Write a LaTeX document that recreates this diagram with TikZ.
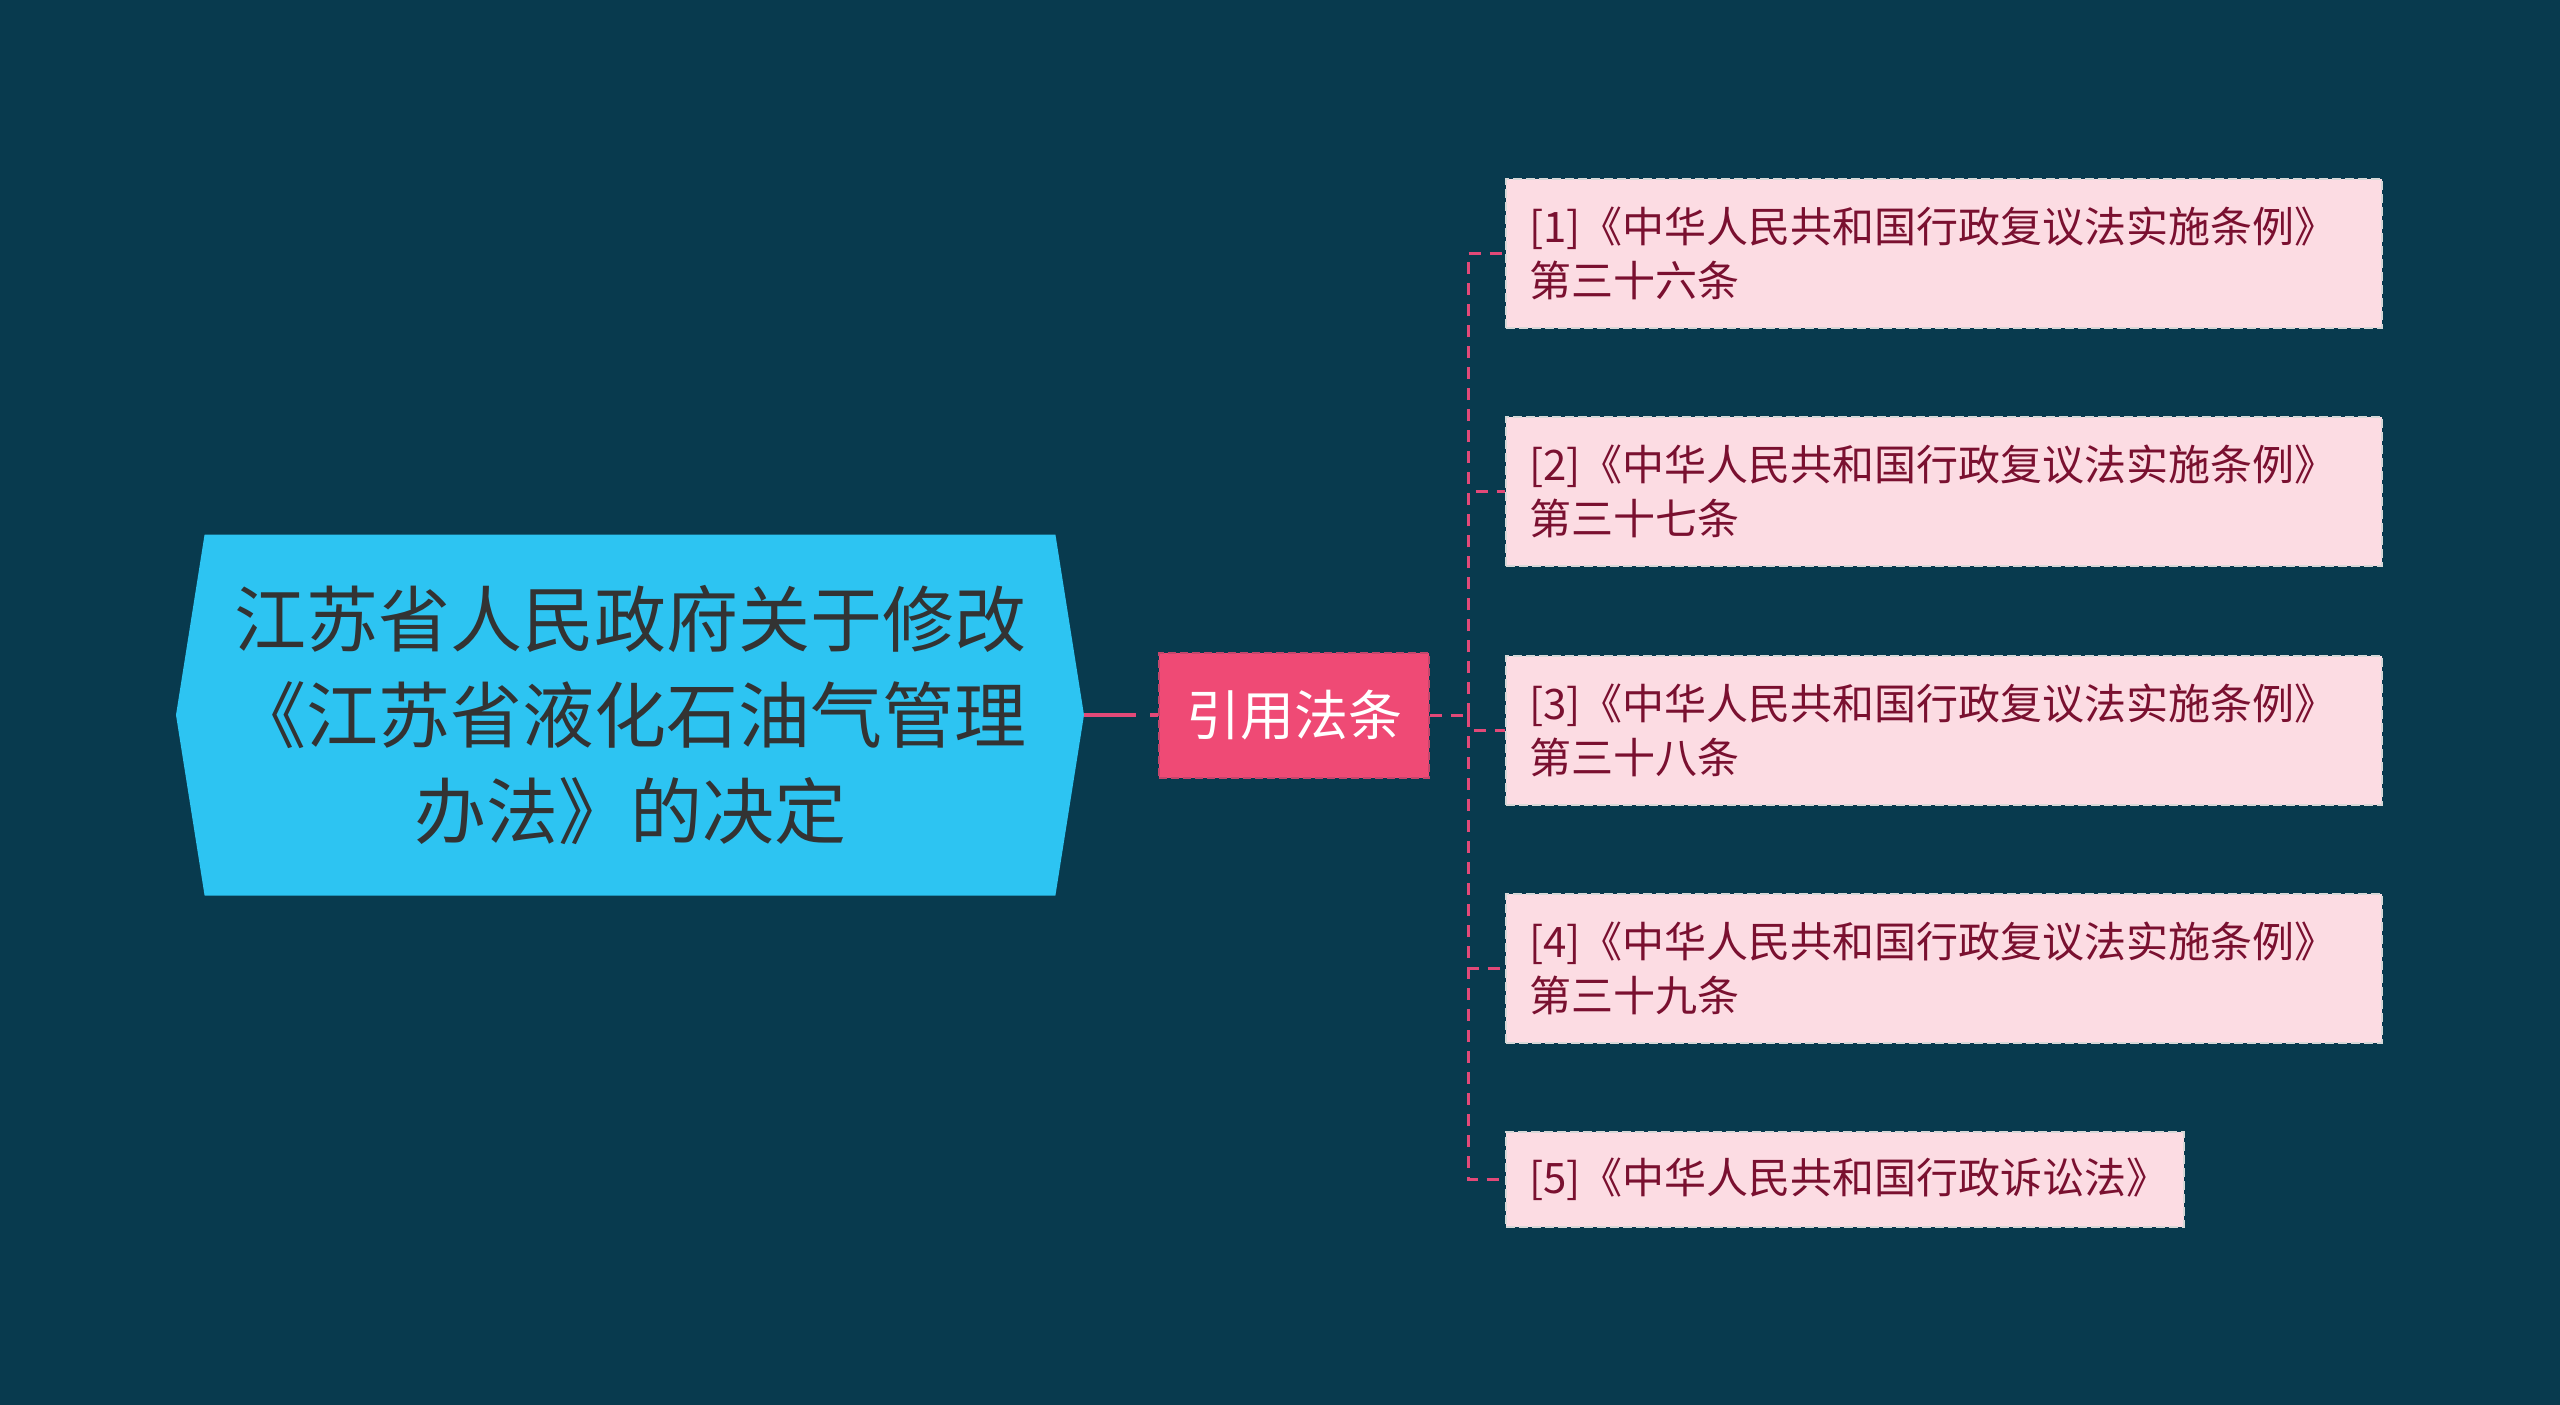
\documentclass[tikz,border=0pt]{standalone}
\usepackage{fontspec}
\setmainfont{Noto Sans CJK SC}
\usetikzlibrary{shapes.symbols}

\definecolor{sfondo}{RGB}{8,58,78}
\definecolor{mainfill}{RGB}{45,196,242}
\definecolor{maintext}{RGB}{51,51,51}
\definecolor{linkc}{RGB}{226,73,120}
\definecolor{citfill}{RGB}{239,74,117}
\definecolor{citline}{RGB}{196,70,108}
\definecolor{leaffill}{RGB}{252,220,227}
\definecolor{leafline}{RGB}{215,215,215}
\definecolor{leaftext}{RGB}{122,16,48}

\tikzset{
  link/.style={draw=linkc, line width=3pt, dash pattern=on 12pt off 9pt},
  leaf/.style={fill=leaffill, draw=leafline, line width=2pt, dash pattern=on 9pt off 4pt,
    text=leaftext, font=\fontsize{42}{54}\selectfont, align=left, anchor=north west,
    inner xsep=23pt, inner ysep=0pt, text width=830pt, minimum height=149pt},
}

\begin{document}
\begin{tikzpicture}[x=1pt,y=-1pt]
    % Sfondo
    \fill[sfondo] (0,0) rectangle (2560,1405);
    \useasboundingbox (0,0) rectangle (2560,1405);

    % Nodo principale
    \node[signal, signal to=east and west, signal pointer angle=162, fill=mainfill,
      minimum width=908pt, minimum height=361pt, inner sep=0pt, align=center,
      text=maintext, font=\fontsize{72}{96}\selectfont] (main) at (630,715)
      {江苏省人民政府关于修改\\《江苏省液化石油气管理\\办法》的决定};

    % Nodo intermedio
    \node[fill=citfill, draw=citline, line width=2pt, dash pattern=on 8pt off 4pt,
      minimum width=270pt, minimum height=125pt, inner sep=0pt, text=white,
      font=\fontsize{54}{60}\selectfont] (cit) at (1294,715) {引用法条};

    \draw[linkc, line width=4pt, dash pattern=on 52pt off 14pt] (main.east) -- (cit.west);

    % Foglie
    \node[leaf] (leaf1) at (1505,178) {[1]《中华人民共和国行政复议法实施条例》\\第三十六条};
    \node[leaf] (leaf2) at (1505,416) {[2]《中华人民共和国行政复议法实施条例》\\第三十七条};
    \node[leaf] (leaf3) at (1505,655) {[3]《中华人民共和国行政复议法实施条例》\\第三十八条};
    \node[leaf] (leaf4) at (1505,893) {[4]《中华人民共和国行政复议法实施条例》\\第三十九条};
    \node[leaf, text width=632pt, minimum height=95pt] (leaf5) at (1505,1131) {[5]《中华人民共和国行政诉讼法》};

    % Collegamenti
    \coordinate (jn) at (1468,715);
    \draw[link] (cit.east) -- (jn);
    \foreach \i in {1,...,5}
        \draw[link] (jn) |- (leaf\i.west);
\end{tikzpicture}
\end{document}
